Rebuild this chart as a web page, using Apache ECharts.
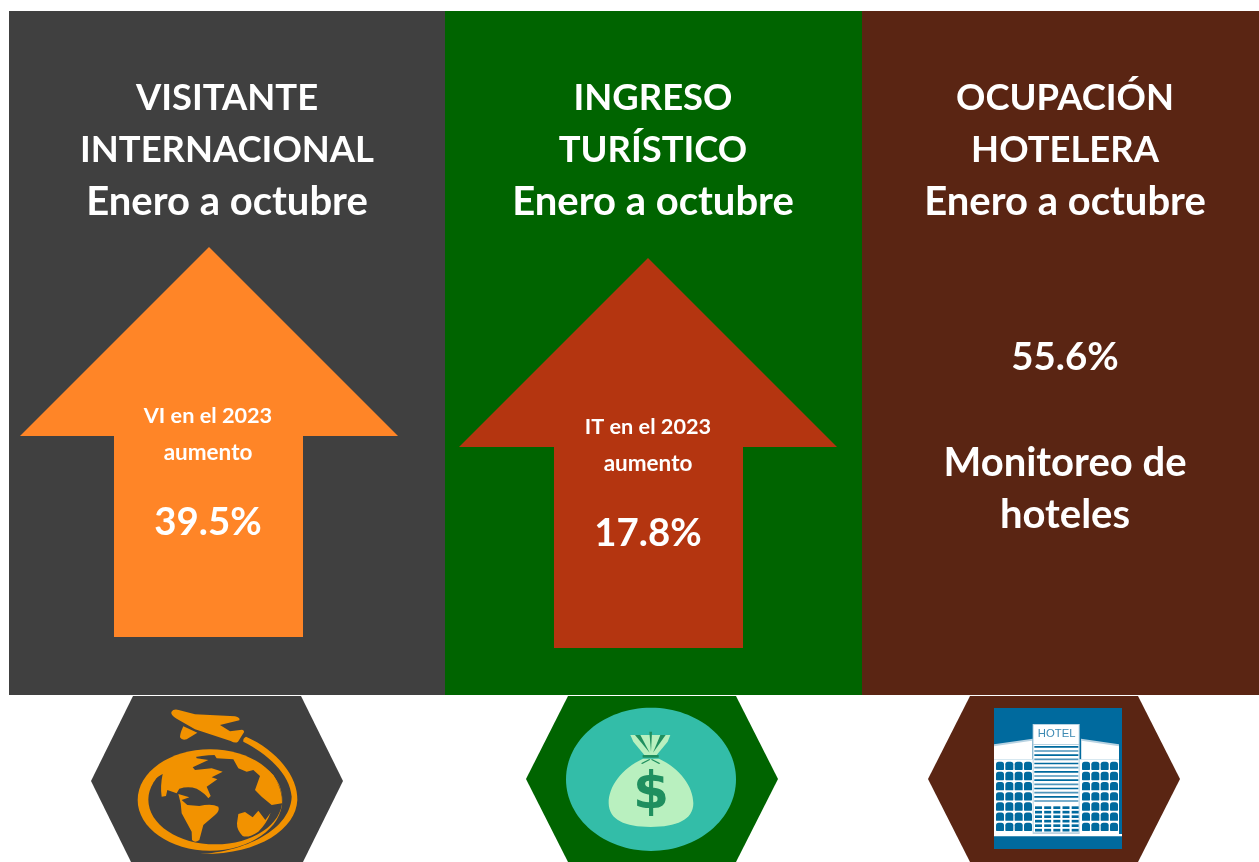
<!DOCTYPE html>
<html>
<head>
<meta charset="utf-8">
<title>Turismo enero a octubre</title>
<script src="https://cdn.jsdelivr.net/npm/echarts@6/dist/echarts.min.js"></script>
<style>
  html, body { margin: 0; padding: 0; background: #fff; }
  #main { width: 1259px; height: 862px; }
</style>
</head>
<body>
<div id="main"></div>
<script>
// datos
const titles = [['VISITANTE', 'INTERNACIONAL'], ['INGRESO', 'TURÍSTICO'], ['OCUPACIÓN', 'HOTELERA']]
const periods = ['Enero a octubre', 'Enero a octubre', 'Enero a octubre']
const arrowCaptions = [['VI en el 2023', 'aumento'], ['IT en el 2023', 'aumento']]
const arrowValues = [39.5, 17.8]
const hotelValue = 55.6
const hotelCaption = ['Monitoreo de', 'hoteles']

const FONT = 'Lato, "Open Sans", sans-serif'
const GREY = '#404040'
const GREEN = '#006400'
const BROWN = '#5a2513'
const ORANGE = '#f29200'

const pct = v => v.toFixed(1) + '%'

const label = (text, x, y, size) => ({
    type: 'text',
    z: 10,
    style: {
        x, y, text,
        fill: '#fff',
        font: 'bold ' + size + 'px ' + FONT,
        textAlign: 'center',
        textVerticalAlign: 'middle'
    }
})

const rect = (x, y, width, height, fill) => ({
    type: 'rect',
    shape: { x, y, width, height },
    style: { fill }
})

const poly = (points, fill) => ({
    type: 'polygon',
    shape: { points },
    style: { fill }
})

const ell = (cx, cy, rx, ry, fill) => ({
    type: 'ellipse',
    shape: { cx, cy, rx, ry },
    style: { fill }
})

// graphic no tiene type path, se registra cada forma
let shapeCount = 0
const svg = (d, fill) => {
    const name = 'iconShape' + shapeCount++
    echarts.graphic.registerShape(name, echarts.graphic.extendPath(d, {}))
    return { type: name, style: { fill } }
}

// flecha hacia arriba, tip = punta
const arrow = (tipX, tipY, left, fill) => poly([
    [tipX, tipY], [tipX + 189, tipY + 189], [left + 189, tipY + 189], [left + 189, tipY + 390],
    [left, tipY + 390], [left, tipY + 189], [tipX - 189, tipY + 189]
], fill)

const hexagon = (left, cy, fill) => poly([
    [left, cy], [left + 42, 696], [left + 210, 696], [left + 252, cy],
    [left + 210, 2 * cy - 696], [left + 42, 2 * cy - 696]
], fill)

// iconos dibujados en coordenadas del recorte x3
const icon = (x, y, children) => ({
    type: 'group', x, y, scaleX: 1 / 3, scaleY: 1 / 3, children
})

const globeIcon = () => icon(80, 690, [
    ell(390, 330, 217, 152, ORANGE),
    ell(406, 329, 201, 134, GREY),
    // avion
    svg('M274 66 Q280 56 296 60 L345 73 L465 79 Q482 83 478 91 L420 105 L450 124 L486 119 Q496 122 490 130 L474 155 Q466 161 452 153 L345 118 L290 86 Q272 76 274 66 Z', ORANGE),
    svg('M310 109 L352 128 L320 148 Q305 152 300 142 Q300 130 310 109 Z', ORANGE),
    // estela
    svg('M498 140 C590 180 655 260 652 330 C648 420 530 498 350 492 C470 490 630 430 635 320 C630 250 560 190 490 155 Q488 145 498 140 Z', ORANGE),
    // continentes
    svg('M205 300 Q210 270 248 252 Q240 290 245 320 L258 318 L262 300 L290 310 L298 296 Q325 288 350 296 Q375 310 385 325 L392 318 L380 290 L412 268 L395 262 L428 245 L395 235 L345 240 L338 232 L385 210 L350 205 L345 192 Q290 190 240 225 Z', ORANGE),
    svg('M400 190 L410 205 L460 208 L475 235 L500 245 L520 240 L540 258 L525 300 L545 320 L575 345 L606 340 Q608 300 580 255 Q530 205 470 192 Z', ORANGE),
    svg('M295 312 L328 322 L305 330 L322 345 L358 348 Q395 340 415 350 Q420 362 405 375 L370 405 L358 450 Q345 460 336 450 L335 425 L305 370 L302 340 Z', ORANGE),
    svg('M475 372 L495 366 L518 382 L535 362 L556 390 L572 368 Q560 400 535 425 Q505 445 488 438 Q470 420 471 400 Z', ORANGE)
])

const bagIcon = () => {
    const dark = '#1f8f5f'
    const bag = '#b9f0bf'
    const teal = '#33bda8'
    return icon(515, 690, [
        ell(408, 268, 255, 215, teal),
        poly([[346, 135], [466, 135], [458, 155], [425, 195], [388, 195], [355, 155]], bag),
        poly([[360, 135], [376, 135], [404, 188]], dark),
        poly([[403, 125], [411, 125], [408, 185]], dark),
        poly([[436, 135], [452, 135], [414, 188]], dark),
        rect(383, 195, 48, 8, dark),
        svg('M384 206 C320 235 280 290 281 340 C282 390 330 411 407 411 C484 411 535 390 535 340 C535 290 495 235 432 206 Z', bag),
        poly([[378, 220], [403, 207], [406, 209], [382, 222]], dark),
        poly([[436, 220], [411, 207], [408, 209], [432, 222]], dark),
        {
            type: 'text',
            z: 5,
            style: { x: 408, y: 314, text: '$', fill: dark, font: 'bold 156px "DejaVu Sans", sans-serif', textAlign: 'center', textVerticalAlign: 'middle' }
        }
    ])
}

const hotelIcon = () => {
    const blue = '#006a9e'
    const pale = '#b9d3e2'
    const kids = [
        rect(222, 54, 384, 423, blue),
        poly([[222, 163], [338, 146], [338, 208], [222, 208]], pale),
        poly([[483, 146], [597, 163], [597, 208], [483, 208]], pale),
        poly([[222, 169], [336, 152], [336, 208], [222, 208]], '#fff'),
        poly([[485, 152], [597, 169], [597, 208], [485, 208]], '#fff'),
        rect(222, 208, 375, 224, '#fff'),
        rect(222, 432, 384, 7, '#fff'),
        rect(338, 102, 141, 330, pale),
        rect(341, 105, 135, 57, '#fff'),
        rect(341, 165, 135, 262, '#fff')
    ]
    // ventanas de las alas
    for (let r = 0; r < 7; r++) {
        for (let c = 0; c < 4; c++) {
            kids.push({ type: 'rect', shape: { x: 228 + c * 28, y: 215 + r * 30.5, width: 24, height: 25, r: [8, 8, 2, 2] }, style: { fill: blue } })
            kids.push({ type: 'rect', shape: { x: 486 + c * 28, y: 215 + r * 30.5, width: 24, height: 25, r: [8, 8, 2, 2] }, style: { fill: blue } })
        }
    }
    // franjas de la torre
    for (let r = 0; r < 14; r++) {
        kids.push(rect(343, 168 + r * 12.5, 132, 5, r % 2 ? '#4f95bb' : blue))
    }
    for (let r = 0; r < 6; r++) {
        for (let c = 0; c < 5; c++) {
            kids.push(rect(345 + c * 27.5, 349 + r * 13.5, 21, 8, blue))
        }
    }
    kids.push({
        type: 'text',
        z: 5,
        style: { x: 410, y: 132, text: 'HOTEL', fill: '#3d8ab3', font: '34px "Liberation Sans", sans-serif', textAlign: 'center', textVerticalAlign: 'middle' }
    })
    return icon(920, 690, kids)
}

const elements = [
    rect(9, 11, 436, 684, GREY),
    rect(445, 11, 417, 684, GREEN),
    rect(862, 11, 397, 684, BROWN),
    arrow(209, 247, 114, '#ff8527'),
    arrow(648, 258, 554, '#b43510'),
    hexagon(91, 781, GREY),
    hexagon(526, 779, GREEN),
    hexagon(928, 779, BROWN),
    globeIcon(),
    bagIcon(),
    hotelIcon()
]

const titleX = [227, 653, 1065]
titles.forEach((lines, i) => {
    elements.push(label(lines[0], titleX[i], 98, 36.4))
    elements.push(label(lines[1], titleX[i], 150, 36.4))
    elements.push(label(periods[i], titleX[i], 202, 40))
})

const arrowX = [208, 648]
const arrowY = [416, 427]
arrowValues.forEach((v, i) => {
    elements.push(label(arrowCaptions[i][0], arrowX[i], arrowY[i], 21.7))
    elements.push(label(arrowCaptions[i][1], arrowX[i], arrowY[i] + 36.5, 22.5))
    elements.push(label(pct(v), arrowX[i], arrowY[i] + 107, 38.4))
})

elements.push(label(pct(hotelValue), 1065, 358, 38.4))
elements.push(label(hotelCaption[0], 1065, 463, 40))
elements.push(label(hotelCaption[1], 1065, 515, 40))

const chart = echarts.init(document.getElementById('main'), null, { renderer: 'canvas' })
chart.setOption({
    animation: false,
    backgroundColor: '#fff',
    graphic: { elements }
})
</script>
</body>
</html>
